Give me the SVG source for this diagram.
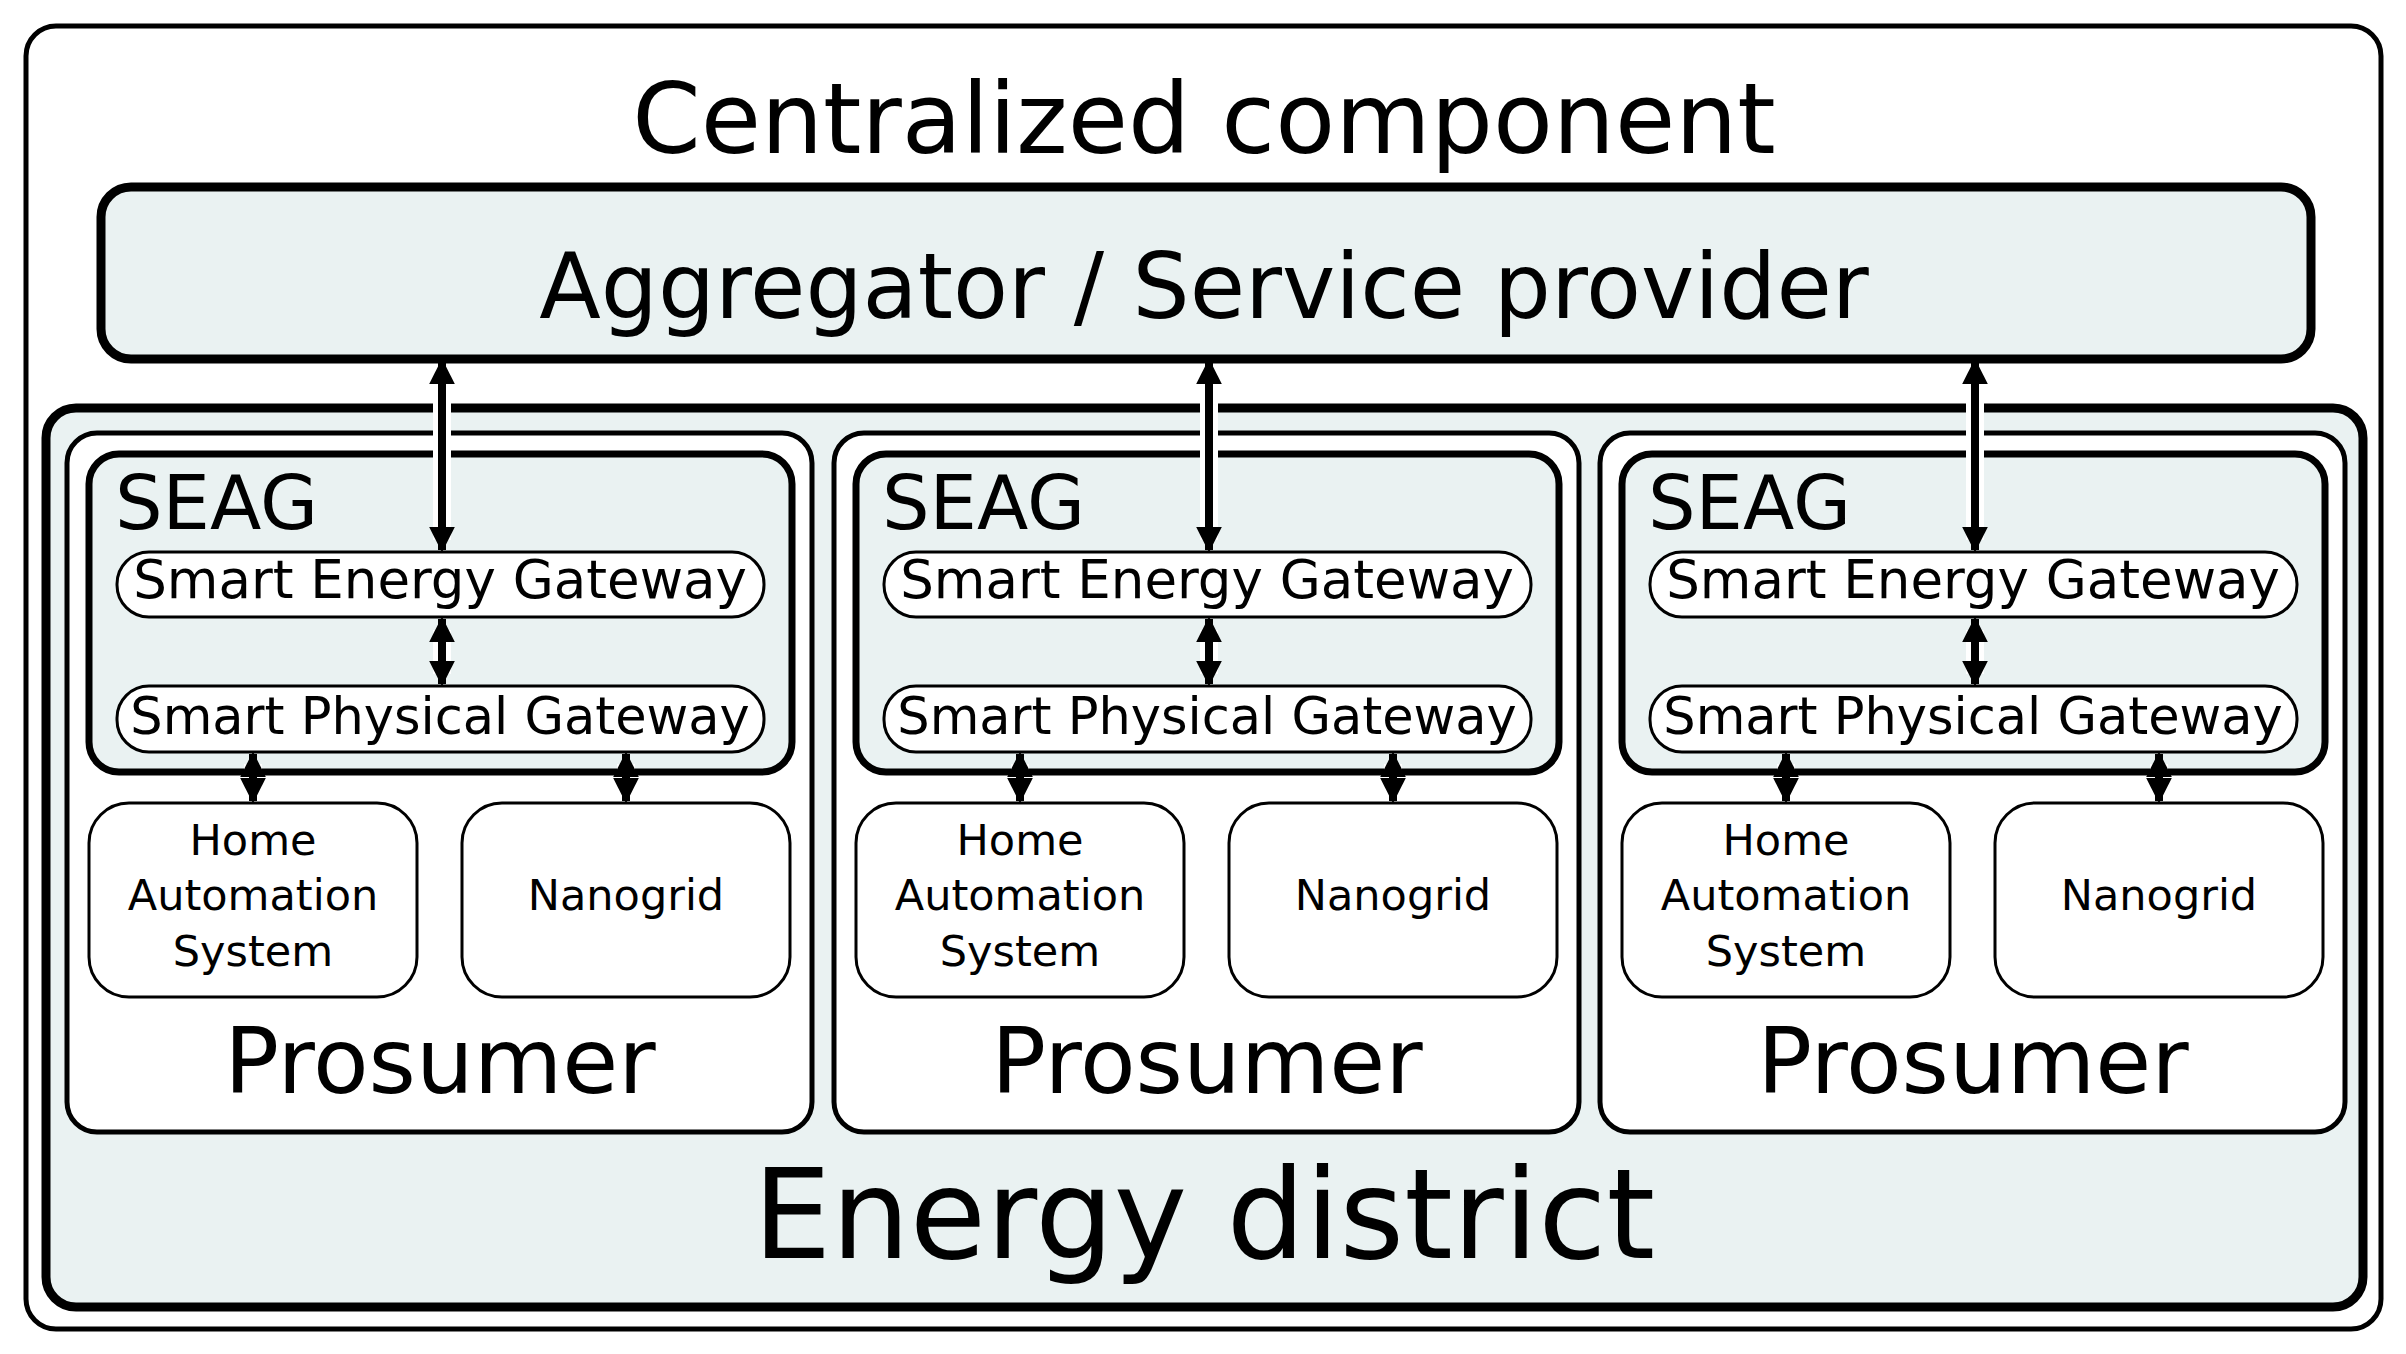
<svg xmlns="http://www.w3.org/2000/svg" width="2406" height="1354" viewBox="0 0 2406 1354">
<style>
text{font-family:"DejaVu Sans",sans-serif;fill:#000;text-anchor:middle}
.lt{fill:#eaf2f2;stroke:#000}
.wh{fill:#fff;stroke:#000}
.ln{stroke:#000;stroke-width:8;fill:none}
.bg{stroke:#fff;stroke-width:18;fill:none}
</style>
<defs>
<marker id="ah" viewBox="0 0 10 10" refX="9" refY="5" markerWidth="3.6" markerHeight="3.2" orient="auto-start-reverse" markerUnits="strokeWidth"><path d="M0,0L10,5L0,10z" fill="#000"/></marker>
<g id="pros">
<rect class="wh" x="67" y="433" width="745" height="699" rx="30" stroke-width="5"/>
<rect class="lt" x="89" y="454" width="703" height="318" rx="30" stroke-width="7"/>
<text x="115" y="529" font-size="75" style="text-anchor:start">SEAG</text>
<rect class="wh" x="117" y="552" width="647" height="65" rx="32" stroke-width="3"/>
<text x="440" y="598" font-size="53">Smart Energy Gateway</text>
<rect class="wh" x="117" y="686" width="647" height="66" rx="32" stroke-width="3"/>
<text x="440" y="734" font-size="51">Smart Physical Gateway</text>
<rect class="wh" x="89" y="803" width="328" height="194" rx="40" stroke-width="3"/>
<text x="253" y="855" font-size="43">Home</text>
<text x="253" y="910" font-size="43">Automation</text>
<text x="253" y="966" font-size="43">System</text>
<rect class="wh" x="462" y="803" width="328" height="194" rx="40" stroke-width="3"/>
<text x="626" y="910" font-size="43">Nanogrid</text>
<text x="440" y="1093" font-size="91">Prosumer</text>
</g>
<g id="arr">
<path class="bg" d="M442 372V540M442 630V674M253 764V793M626 764V793"/>
<path class="ln" marker-start="url(#ah)" marker-end="url(#ah)" d="M442 361V550"/>
<path class="ln" marker-start="url(#ah)" marker-end="url(#ah)" d="M442 619V684"/>
<path class="ln" marker-start="url(#ah)" marker-end="url(#ah)" d="M253 754V801"/>
<path class="ln" marker-start="url(#ah)" marker-end="url(#ah)" d="M626 754V801"/>
</g>
</defs>
<rect width="2406" height="1354" fill="#fff"/>
<g id="centralized">
<rect class="wh" x="26" y="26" width="2355" height="1303" rx="30" stroke-width="5"/>
<text x="1204" y="153" font-size="98">Centralized component</text>
</g>
<g id="aggregator">
<rect class="lt" x="101" y="187" width="2210" height="172" rx="30" stroke-width="9"/>
<text x="1204" y="318" font-size="90">Aggregator / Service provider</text>
</g>
<g id="district">
<rect class="lt" x="46" y="408" width="2317" height="899" rx="30" stroke-width="9"/>
<text x="1204" y="1258" font-size="124">Energy district</text>
</g>
<g id="prosumer1"><use href="#pros"/></g>
<g id="prosumer2"><use href="#pros" x="767"/></g>
<g id="prosumer3"><use href="#pros" x="1533"/></g>
<g id="connectors">
<use href="#arr"/><use href="#arr" x="767"/><use href="#arr" x="1533"/>
</g>
</svg>
